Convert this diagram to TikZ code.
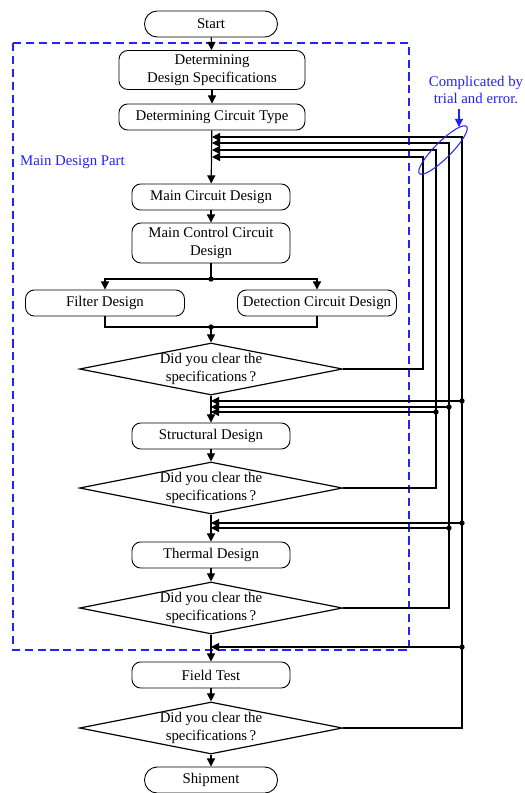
\documentclass[tikz,border=0pt]{standalone}
\usepackage{fontspec}
\setmainfont{Liberation Serif}
\usetikzlibrary{arrows.meta,shapes.geometric}
\definecolor{partblue}{RGB}{35,35,245}
\tikzset{
  box/.style={draw, rounded corners=6pt, line width=0.6pt, align=center, inner sep=0pt,
    minimum width=106.7pt, minimum height=17.6pt},
  terminal/.style={box, rounded corners=8.7pt, minimum width=89.8pt},
  check/.style={draw, diamond, line width=0.8pt, inner sep=0pt,
    minimum width=177.5pt, minimum height=35.1pt,
    label={[align=center]center:Did you clear the\\specifications\,?}},
  flow/.style={line width=0.8pt, -{Triangle[length=5.5pt,width=5.5pt]}},
  wire/.style={line width=0.8pt},
}
\begin{document}
\begin{tikzpicture}[x=0.675pt, y=-0.675pt]
  \useasboundingbox (0,0) rectangle (525,793);

  % main design part
  \draw[partblue, line width=0.8pt, dash pattern=on 5.5pt off 3.2pt] (13,43) rectangle (409,650);
  \node[partblue, anchor=west] (partlabel) at (15,162) {Main Design Part};

  % flow nodes
  \node[terminal] (start) at (211,24) {Start};
  \node[box, minimum width=125.6pt, minimum height=26.3pt] (spec) at (212,70) {Determining\\Design Specifications};
  \node[box, minimum width=125.6pt] (type) at (212,117) {Determining Circuit Type};
  \node[box] (main) at (211,197) {Main Circuit Design};
  \node[box, minimum height=27pt] (ctrl) at (211,243) {Main Control Circuit\\Design};
  \node[box, minimum width=107.3pt] (filter) at (105,303) {Filter Design};
  \node[box, minimum width=107.3pt] (detect) at (317,303) {Detection Circuit Design};
  \node[check] (d1) at (211,369) {};
  \node[box] (struct) at (211,436) {Structural Design};
  \node[check] (d2) at (211,488) {};
  \node[box] (thermal) at (211,555) {Thermal Design};
  \node[check] (d3) at (211,608) {};
  \node[box] (field) at (211,675) {Field Test};
  \node[check] (d4) at (211,728) {};
  \node[terminal] (ship) at (211,780) {Shipment};

  % main flow
  \coordinate (split) at (211,279);
  \coordinate (merge) at (211,327);
  \draw[flow] (start) -- (spec);
  \draw[flow] (spec) -- (type);
  \draw[flow] (type) -- (main);
  \draw[flow] (main) -- (ctrl);
  \draw[wire] (ctrl) -- (split);
  \draw[flow] (split) -| (filter);
  \draw[flow] (split) -| (detect);
  \draw[wire] (filter) |- (merge) -| (detect);
  \fill (split) circle (1.8pt);
  \fill (merge) circle (1.8pt);
  \draw[flow] (merge) -- (d1);
  \draw[flow] (d1) -- (struct);
  \draw[flow] (struct) -- (d2);
  \draw[flow] (d2) -- (thermal);
  \draw[flow] (thermal) -- (d3);
  \draw[flow] (d3) -- (field);
  \draw[flow] (field) -- (d4);
  \draw[flow] (d4) -- (ship);

  % feedback rails
  \coordinate (r1) at (423,157);
  \coordinate (r2) at (436,150);
  \coordinate (r3) at (449,143);
  \coordinate (r4) at (462,137);
  \draw[flow] (d1.east) -| (r1) -- (r1 -| type.south);
  \draw[flow] (d2.east) -| (r2) -- (r2 -| type.south);
  \draw[flow] (d3.east) -| (r3) -- (r3 -| type.south);
  \draw[flow] (d4.east) -| (r4) -- (r4 -| type.south);

  % taps
  \coordinate (t4a) at (462,401);
  \coordinate (t3a) at (449,407);
  \coordinate (t2a) at (436,412);
  \coordinate (t4b) at (462,523);
  \coordinate (t3b) at (449,528);
  \coordinate (t4c) at (462,647);
  \foreach \t in {t4a,t3a,t2a,t4b,t3b,t4c} {
    \fill (\t) circle (1.8pt);
    \draw[flow] (\t) -- (\t -| d1.south);
  }

  % trial and error note
  \node[partblue, align=center] (note) at (476,90) {Complicated by\\trial and error.};
  \node[draw=partblue, ellipse, line width=0.7pt, inner sep=0pt, minimum width=45pt,
    minimum height=11pt, rotate=45] (trial) at (443,150) {};
  \coordinate (noteend) at (459,127);
  \draw[partblue, line width=0.7pt, -{Triangle[length=5.5pt,width=5.5pt]}] (note.south -| noteend) -- (noteend);
\end{tikzpicture}
\end{document}
